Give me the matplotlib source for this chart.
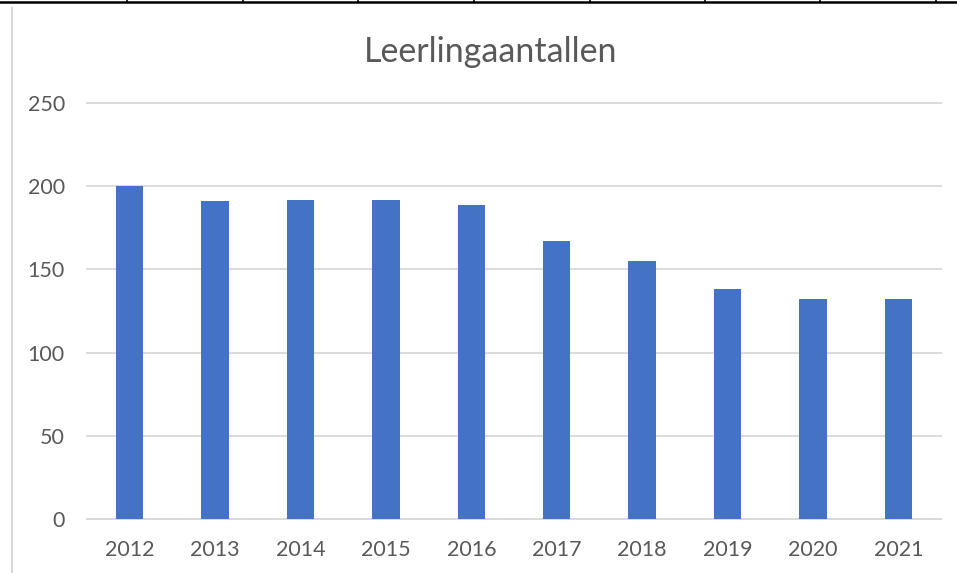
import matplotlib
matplotlib.use("Agg")
import matplotlib.pyplot as plt
from matplotlib.lines import Line2D

years = ["2012", "2013", "2014", "2015", "2016", "2017", "2018", "2019", "2020", "2021"]
counts = [200, 191, 192, 192, 189, 167, 155, 138, 132, 132]
yticks = [0, 50, 100, 150, 200, 250]
title = "Leerlingaantallen"

plt.rcParams['font.family'] = ['Lato', 'DejaVu Sans']
W, H = 957, 573
fig = plt.figure(figsize=(W / 100, H / 100), dpi=100)
fig.patch.set_facecolor("white")

ax = fig.add_axes([87 / W, 1 - 519 / H, (941 - 87) / W, (519 - 103) / H])
x = list(range(len(years)))
ax.bar(x, counts, width=0.32, color="#4472C4", zorder=3)
ax.set_xlim(-0.5, len(years) - 0.5)
ax.set_ylim(0, 250)
ax.set_yticks(yticks)
ax.set_yticklabels([str(v) for v in yticks])
ax.set_xticks(x)
ax.set_xticklabels(years)
ax.tick_params(axis="both", length=0, labelsize=15.5, colors="#595959")
ax.tick_params(axis="y", pad=16)
ax.tick_params(axis="x", pad=15)
for s in ["top", "right", "left"]:
    ax.spines[s].set_visible(False)
ax.spines["bottom"].set_color("#d9d9d9")
ax.spines["bottom"].set_linewidth(1.3)
ax.yaxis.grid(True, color="#d9d9d9", linewidth=1.3, zorder=0)
ax.set_axisbelow(True)
for gl in ax.get_ygridlines():
    gl.set_clip_on(False)

fig.text(491 / W, 1 - 62 / H, title, ha="center", va="baseline", fontsize=24.5, color="#595959")

# spreadsheet surroundings
fig.add_artist(Line2D([0, 1], [1 - 2 / H, 1 - 2 / H], color="black", linewidth=1.8, transform=fig.transFigure))
for px in [127, 243, 358, 474, 590, 705, 820, 936]:
    fig.add_artist(Line2D([px / W, px / W], [1 - 2 / H, 1], color="black", linewidth=1.2, transform=fig.transFigure))
fig.add_artist(Line2D([11.5 / W, 11.5 / W], [0, 1 - 8 / H], color="#d9d9d9", linewidth=1.5, transform=fig.transFigure))

fig.savefig("out.png", dpi=100, facecolor="white")
